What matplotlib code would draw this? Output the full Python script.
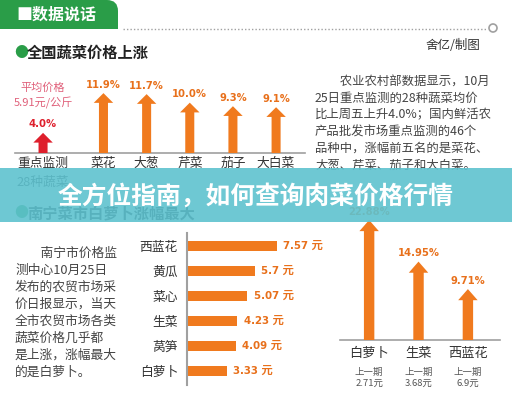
import numpy as np
import matplotlib
matplotlib.use('Agg')
import matplotlib.pyplot as plt
from matplotlib import font_manager
from matplotlib.patches import Rectangle, FancyBboxPatch, Circle

CJK = ['Noto Sans CJK SC', 'DejaVu Sans']
_names = {f.name for f in font_manager.fontManager.ttflist}
if 'Liberation Sans Narrow' in _names:
    NUM = ['Liberation Sans Narrow', 'Noto Sans CJK SC', 'DejaVu Sans']
    NUM_STRETCH = 'normal'
else:
    NUM = ['DejaVu Sans', 'Noto Sans CJK SC']
    NUM_STRETCH = 'condensed'
plt.rcParams['font.family'] = CJK

# ---------------- data ----------------
national_cats = ['重点监测\n28种蔬菜', '菜花', '大葱', '芹菜', '茄子', '大白菜']
national_rise = [4.0, 11.9, 11.7, 10.0, 9.3, 9.1]
avg_price_note = '平均价格\n5.91元/公斤'

nanning_cats = ['西蓝花', '黄瓜', '菜心', '生菜', '莴笋', '白萝卜']
nanning_price = [7.57, 5.7, 5.07, 4.23, 4.09, 3.33]

rise_cats = ['白萝卜', '生菜', '西蓝花']
rise_pct = [22.88, 14.95, 9.71]
prev_price = ['2.71元', '3.68元', '6.9元']

para_top = ['　　农业农村部数据显示，10月',
            '25日重点监测的28种蔬菜均价',
            '比上周五上升4.0%；国内鲜活农',
            '产品批发市场重点监测的46个',
            '品种中，涨幅前五名的是菜花、',
            '大葱、芹菜、茄子和大白菜。']
para_left = ['　　南宁市价格监',
             '测中心10月25日',
             '发布的农贸市场采',
             '价日报显示，当天',
             '全市农贸市场各类',
             '蔬菜价格几乎都',
             '是上涨，涨幅最大',
             '的是白萝卜。']

# ---------------- style ----------------
ORANGE = '#f07a1e'
ORANGE_T = '#e8701b'
RED = '#de1f2c'
GREEN = '#2a9d48'
BANNER = '#5ec2cf'
GRAY = '#a0a0a0'

W, H = 512, 393
fig = plt.figure(figsize=(W / 100, H / 100), dpi=100)
fig.patch.set_facecolor('white')


def px_axes(l, t, r, b, **kw):
    ax = fig.add_axes([l / W, 1 - b / H, (r - l) / W, (b - t) / H], **kw)
    ax.patch.set_alpha(0)
    return ax


def arrow(ax, x, v, color, hw, tw, hl):
    ax.annotate('', xy=(x, v), xytext=(x, 0),
                arrowprops=dict(arrowstyle=f'simple,head_length={hl},head_width={hw},tail_width={tw}',
                                fc=color, ec='none', shrinkA=0, shrinkB=0,
                                mutation_scale=1))


# ---------------- top arrow chart ----------------
ax1 = px_axes(15, 73, 305, 153)
n1 = len(national_rise)
x1 = np.arange(n1) + np.where(np.arange(n1) > 0, 0.4, 0.0)
ax1.set_xlim(-0.65, 6.07)
ax1.set_ylim(0, 15.9)
for i, (x, v) in enumerate(zip(x1, national_rise)):
    c = RED if i == 0 else ORANGE
    arrow(ax1, x, v, c, 14, 6.5, 7)
    ax1.annotate(f'{v:.1f}%', xy=(x, v), xytext=(0, 2.5), textcoords='offset points',
                 ha='center', va='bottom', color=(RED if i == 0 else ORANGE_T),
                 fontsize=8, fontweight='bold', family=NUM, fontstretch=NUM_STRETCH)
ax1.annotate(avg_price_note, xy=(x1[0], national_rise[0]), xytext=(0, 17),
             textcoords='offset points', ha='center', va='bottom',
             color='#e0607a', fontsize=8, linespacing=1.5)
ax1.set_xticks(x1, national_cats, fontsize=9.2, color='#333333', linespacing=1.6)
ax1.set_yticks([])
ax1.tick_params(length=0, pad=3)
for s in ['top', 'right', 'left']:
    ax1.spines[s].set_visible(False)
ax1.spines['bottom'].set_color(GRAY)
ax1.spines['bottom'].set_linewidth(1.2)

# ---------------- horizontal bar chart ----------------
ax2 = px_axes(187, 233, 320, 385)
y2 = np.arange(len(nanning_price))
ax2.barh(y2, nanning_price, height=0.4, color=ORANGE)
ax2.set_xlim(0, 11.19)
ax2.set_ylim(5.56, -0.52)
ax2.set_yticks(y2, nanning_cats, fontsize=9.2, color='#333333')
ax2.set_xticks([])
ax2.tick_params(length=0, pad=6.5)
for s in ['top', 'right', 'bottom']:
    ax2.spines[s].set_visible(False)
ax2.spines['left'].set_color(GRAY)
ax2.spines['left'].set_linewidth(1.5)
for yi, v in zip(y2, nanning_price):
    ax2.annotate(f'{v:g} 元', xy=(v, yi), xytext=(4.5, 0), textcoords='offset points',
                 ha='left', va='center', color=ORANGE_T, fontsize=8.2,
                 fontweight='bold', family=NUM, fontstretch=NUM_STRETCH)

# ---------------- bottom-right arrow chart ----------------
ax3 = px_axes(340, 200, 500, 340)
x3 = np.arange(len(rise_pct))
ax3.set_xlim(-0.59, 2.65)
ax3.set_ylim(0, 26.7)
for x, v in zip(x3, rise_pct):
    arrow(ax3, x, v, ORANGE, 14, 7.5, 8)
    ax3.annotate(f'{v:.2f}%', xy=(x, v), xytext=(0, 2.5), textcoords='offset points',
                 ha='center', va='bottom', color=ORANGE_T, fontsize=8,
                 fontweight='bold', family=NUM, fontstretch=NUM_STRETCH)
for x, p in zip(x3, prev_price):
    ax3.annotate('上一期\n' + p, xy=(x, 0), xytext=(0, -20), textcoords='offset points',
                 ha='center', va='top', color='#555555', fontsize=6.8, linespacing=1.3)
ax3.set_xticks(x3, rise_cats, fontsize=9.5, color='#333333')
ax3.set_yticks([])
ax3.tick_params(length=0, pad=5)
for s in ['top', 'right', 'left']:
    ax3.spines[s].set_visible(False)
ax3.spines['bottom'].set_color(GRAY)
ax3.spines['bottom'].set_linewidth(1.2)

# ---------------- overlay (decor, text, banner) ----------------
ax0 = fig.add_axes([0, 0, 1, 1], zorder=10)
ax0.set_xlim(0, W)
ax0.set_ylim(H, 0)
ax0.axis('off')
ax0.patch.set_visible(False)

tab = FancyBboxPatch((-20, 0), 138, 45, boxstyle='round,pad=0,rounding_size=11',
                     fc=GREEN, ec='none')
ax0.add_patch(tab)
tab.set_clip_path(Rectangle((0, 0), W, 28.5, transform=ax0.transData))
ax0.text(16, 15, '■数据说话', color='white', fontsize=11.5, fontweight='bold',
         ha='left', va='center')
ax0.plot([123, 487], [29, 29], color=GRAY, lw=1.0, ls=(0, (1, 1.5)))
ax0.add_patch(Circle((493, 28), 4, fc='white', ec=GRAY, lw=1.2))

ax0.text(14, 53, '●', color=GREEN, fontsize=10, ha='left', va='center')
ax0.text(27, 53, '全国蔬菜价格上涨', color='#222222', fontsize=11,
         fontweight='bold', ha='left', va='center')
ax0.text(480, 45, '舍亿/制图', color='#333333', fontsize=9, ha='right', va='center')

for k, line in enumerate(para_top):
    ax0.text(315, 82 + k * 16.6, line, color='#444444', fontsize=8.9,
             ha='left', va='center')
for k, line in enumerate(para_left):
    ax0.text(15, 253 + k * 17.1, line, color='#444444', fontsize=9.2,
             ha='left', va='center')

ax0.text(14, 213, '●', color=GREEN, fontsize=10, ha='left', va='center')
ax0.text(27, 213, '南宁菜市白萝卜涨幅最大', color='#222222', fontsize=11,
         fontweight='bold', ha='left', va='center')

ax0.add_patch(Rectangle((0, 168), W, 54, fc=BANNER, ec='none', alpha=0.9, zorder=20))
ax0.text(256, 196, '全方位指南，如何查询肉菜价格行情', color='white', fontsize=17.8,
         fontweight='bold', ha='center', va='center', zorder=21)

fig.savefig('out.png', dpi=100)
